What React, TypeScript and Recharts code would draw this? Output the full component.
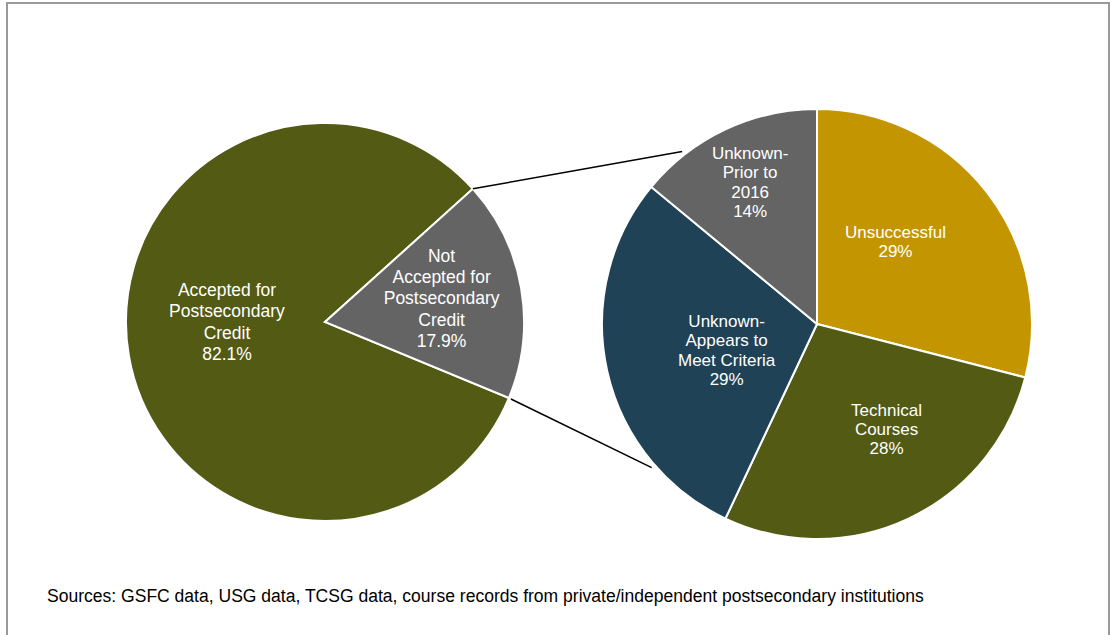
import React from 'react';
import { PieChart, Pie, Cell } from 'recharts';

// primary split
const creditLabels = [['Accepted for', 'Postsecondary', 'Credit'], ['Not', 'Accepted for', 'Postsecondary', 'Credit']];
const creditValues = [82.1, 17.9];
const creditColors = ['#525a14', '#646464'];

// breakdown of the "not accepted" share
const reasonLabels = [['Unsuccessful'], ['Technical', 'Courses'], ['Unknown-', 'Appears to', 'Meet Criteria'], ['Unknown-', 'Prior to', '2016']];
const reasonValues = [29, 28, 29, 14];
const reasonColors = ['#c39500', '#525a14', '#1f4257', '#646464'];

const sourceNote =
  'Sources: GSFC data, USG data, TCSG data, course records from private/independent postsecondary institutions';

const W = 1113;
const H = 635;
const FONT = '"Liberation Sans", Arial, sans-serif';

const LEFT = { cx: 325, cy: 322, r: 199, start: 42 };
const RIGHT = { cx: 817, cy: 324, r: 215, start: 90 };

// where Excel put the labels (distance from centre, angle in degrees)
const leftLabelPos = [
  { d: 98, a: 180 },
  { d: 119, a: 11.5 },
];
const rightLabelPos = [
  { d: 114, a: 46.5 },
  { d: 126, a: -56.5 },
  { d: 94, a: 196 },
  { d: 157, a: 115.2 },
];

const leftData = creditValues.map((v, i) => ({ name: creditLabels[i].join(' '), value: v, lines: creditLabels[i], text: `${v.toFixed(1)}%` }));
const rightData = reasonValues.map((v, i) => ({ name: reasonLabels[i].join(' '), value: v, lines: reasonLabels[i], text: `${v}%` }));

const pt = (cx: number, cy: number, r: number, deg: number) => {
  const rad = (deg * Math.PI) / 180;
  return { x: cx + r * Math.cos(rad), y: cy - r * Math.sin(rad) };
};

function makeLabel(center: { cx: number; cy: number }, pos: { d: number; a: number }[], fontSize: number, lh: number) {
  return (props: any) => {
    const { index, payload } = props;
    const p = pt(center.cx, center.cy, pos[index].d, pos[index].a);
    const lines: string[] = [...(payload.lines ?? []), payload.text];
    const first = -((lines.length - 1) / 2) * lh;
    return (
      <text x={p.x} y={p.y} textAnchor="middle" fill="#ffffff" fontSize={fontSize} fontFamily={FONT}>
        {lines.map((l, i) => (
          <tspan key={i} x={p.x} dy={i === 0 ? first + fontSize * 0.35 : lh}>
            {l}
          </tspan>
        ))}
      </text>
    );
  };
}

export default function App() {
  const splitEnd = LEFT.start + 360;
  const splitStart = LEFT.start + (creditValues[0] / 100) * 360;
  const a1 = pt(LEFT.cx, LEFT.cy, LEFT.r, splitEnd);
  const a2 = pt(LEFT.cx, LEFT.cy, LEFT.r, splitStart);
  const b1 = pt(RIGHT.cx, RIGHT.cy, RIGHT.r + 4, 128);
  const b2 = pt(RIGHT.cx, RIGHT.cy, RIGHT.r + 4, 221);

  return (
    <div style={{ position: 'absolute', left: 0, top: 0, width: W, height: H, background: '#fff', overflow: 'hidden', fontFamily: FONT }}>
      <div
        style={{
          position: 'absolute',
          left: 6,
          top: 2,
          width: W - 6 - 3,
          height: H + 10,
          border: '2px solid #9a9a9a',
          boxSizing: 'border-box',
        }}
      />
      <div style={{ position: 'absolute', left: 0, top: 0 }}>
        <PieChart width={W} height={H} margin={{ top: 0, right: 0, bottom: 0, left: 0 }}>
          <Pie
            data={leftData}
            dataKey="value"
            cx={LEFT.cx}
            cy={LEFT.cy}
            outerRadius={LEFT.r}
            startAngle={LEFT.start}
            endAngle={LEFT.start + 360}
            stroke="#ffffff"
            strokeWidth={2}
            labelLine={false}
            label={makeLabel(LEFT, leftLabelPos, 17.5, 21.3)}
            isAnimationActive={false}
          >
            {leftData.map((d, i) => (
              <Cell key={d.name} fill={creditColors[i]} />
            ))}
          </Pie>
          <Pie
            data={rightData}
            dataKey="value"
            cx={RIGHT.cx}
            cy={RIGHT.cy}
            outerRadius={RIGHT.r}
            startAngle={RIGHT.start}
            endAngle={RIGHT.start - 360}
            stroke="#ffffff"
            strokeWidth={2}
            labelLine={false}
            label={makeLabel(RIGHT, rightLabelPos, 17, 19.3)}
            isAnimationActive={false}
          >
            {rightData.map((d, i) => (
              <Cell key={d.name} fill={reasonColors[i]} />
            ))}
          </Pie>
        </PieChart>
      </div>
      <svg width={W} height={H} style={{ position: 'absolute', left: 0, top: 0, pointerEvents: 'none' }}>
        <line x1={a1.x} y1={a1.y} x2={b1.x} y2={b1.y} stroke="#000" strokeWidth={1.5} />
        <line x1={a2.x + 2} y1={a2.y + 1} x2={b2.x} y2={b2.y} stroke="#000" strokeWidth={1.5} />
        <text x={47} y={602} fontSize={17.55} fill="#000" fontFamily={FONT}>
          {sourceNote}
        </text>
      </svg>
    </div>
  );
}
